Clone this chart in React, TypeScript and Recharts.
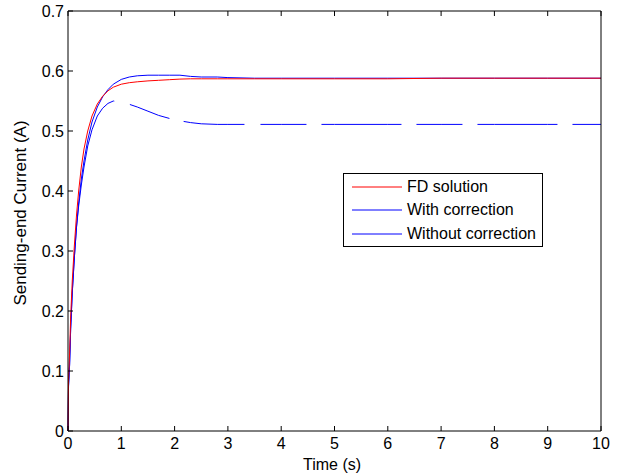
import React from "react";
import { LineChart, Line, XAxis, YAxis } from "recharts";

const time = [0, 0.01, 0.03, 0.05, 0.08, 0.12, 0.16, 0.2, 0.25, 0.3, 0.37, 0.45, 0.55, 0.65, 0.75, 0.85, 1.0, 1.15, 1.3, 1.5, 1.7, 1.9, 2.1, 2.3, 2.5, 2.8, 3.0, 3.5, 4, 5, 6, 7, 8, 9, 10];
const fdSolution = [0, 0.085, 0.13, 0.19, 0.25, 0.31, 0.36, 0.40, 0.44, 0.47, 0.50, 0.525, 0.545, 0.558, 0.567, 0.573, 0.578, 0.5805, 0.582, 0.5835, 0.5845, 0.5855, 0.5865, 0.587, 0.587, 0.587, 0.587, 0.587, 0.587, 0.587, 0.587, 0.588, 0.588, 0.588, 0.588];
const withCorrection = [0, 0.075, 0.11, 0.17, 0.23, 0.29, 0.34, 0.38, 0.42, 0.45, 0.485, 0.515, 0.54, 0.557, 0.569, 0.578, 0.586, 0.590, 0.592, 0.593, 0.593, 0.593, 0.593, 0.591, 0.590, 0.590, 0.589, 0.588, 0.588, 0.588, 0.588, 0.588, 0.588, 0.588, 0.588];
const withoutCorrection = [0, 0.075, 0.11, 0.17, 0.23, 0.29, 0.34, 0.375, 0.41, 0.44, 0.475, 0.502, 0.525, 0.538, 0.546, 0.55, 0.548, 0.5445, 0.54, 0.533, 0.526, 0.521, 0.517, 0.514, 0.512, 0.511, 0.511, 0.511, 0.511, 0.511, 0.511, 0.511, 0.511, 0.511, 0.511];

const xTicks = [0, 1, 2, 3, 4, 5, 6, 7, 8, 9, 10];
const yTicks = [0, 0.1, 0.2, 0.3, 0.4, 0.5, 0.6, 0.7];
const seriesNames = ["FD solution", "With correction", "Without correction"];
const seriesColors = ["#ff0000", "#0000ff", "#0000ff"];

const data = time.map((t, i) => ({
  t,
  fd: fdSolution[i],
  wc: withCorrection[i],
  woc: withoutCorrection[i],
}));

const FONT = '"Liberation Sans", Arial, sans-serif';
const TL = 5;

const BottomTick = (props: any) => {
  const { x, y, payload } = props;
  return (
    <g>
      <line x1={x} y1={y} x2={x} y2={y - TL} stroke="#000" />
      <text x={x} y={y + 18} textAnchor="middle" fontSize={16} fontFamily={FONT} fill="#000">
        {String(payload.value)}
      </text>
    </g>
  );
};
const TopTick = (props: any) => {
  const { x, y } = props;
  return <line x1={x} y1={y} x2={x} y2={y + TL} stroke="#000" />;
};
const LeftTick = (props: any) => {
  const { x, y, payload } = props;
  return (
    <g>
      <line x1={x} y1={y} x2={x + TL} y2={y} stroke="#000" />
      <text x={x - 4} y={y + 6} textAnchor="end" fontSize={16} fontFamily={FONT} fill="#000">
        {String(payload.value)}
      </text>
    </g>
  );
};
const RightTick = (props: any) => {
  const { x, y } = props;
  return <line x1={x} y1={y} x2={x - TL} y2={y} stroke="#000" />;
};

const LegendBox = () => (
  <div
    style={{
      position: "absolute",
      left: 343,
      top: 173,
      width: 200,
      height: 74,
      border: "1px solid #000",
      background: "#fff",
      boxSizing: "border-box",
      fontFamily: FONT,
      fontSize: 16,
      paddingTop: 1,
    }}
  >
    {seriesNames.map((n, i) => (
      <div key={n} style={{ display: "flex", alignItems: "center", height: 23.5, whiteSpace: "nowrap" }}>
        <svg width={63} height={10} style={{ flex: "none" }}>
          <line x1={8} y1={5} x2={58} y2={5} stroke={seriesColors[i]} strokeWidth={1} />
        </svg>
        <span>{n}</span>
      </div>
    ))}
  </div>
);

export default function App() {
  return (
    <div style={{ position: "absolute", left: 0, top: 0, width: 625, height: 475, background: "#fff" }}>
      <LineChart
        width={625}
        height={475}
        data={data}
        margin={{ top: 10, right: 23, bottom: 43, left: 67 }}
      >
        <XAxis
          dataKey="t"
          type="number"
          domain={[0, 10]}
          ticks={xTicks}
          height={1}
          tickSize={0}
          tickMargin={0}
          tickLine={false}
          tick={<BottomTick />}
          axisLine={{ stroke: "#000" }}
          interval={0}
        />
        <XAxis
          xAxisId="top"
          orientation="top"
          dataKey="t"
          type="number"
          domain={[0, 10]}
          ticks={xTicks}
          height={1}
          tickSize={0}
          tickMargin={0}
          tickLine={false}
          tick={<TopTick />}
          axisLine={{ stroke: "#000" }}
          interval={0}
        />
        <YAxis
          type="number"
          domain={[0, 0.7]}
          ticks={yTicks}
          width={1}
          tickSize={0}
          tickMargin={0}
          tickLine={false}
          tick={<LeftTick />}
          axisLine={{ stroke: "#000" }}
          interval={0}
        />
        <YAxis
          yAxisId="right"
          orientation="right"
          type="number"
          domain={[0, 0.7]}
          ticks={yTicks}
          width={1}
          tickSize={0}
          tickMargin={0}
          tickLine={false}
          tick={<RightTick />}
          axisLine={{ stroke: "#000" }}
          interval={0}
        />
        <Line
          type="linear"
          dataKey="woc"
          name={seriesNames[2]}
          stroke={seriesColors[2]}
          strokeWidth={1}
          dot={false}
          isAnimationActive={false}
          strokeDasharray="341 16 42 14.5 61 16 46 15 80 15 46 15 80 15 60"
        />
        <Line
          type="linear"
          dataKey="wc"
          name={seriesNames[1]}
          stroke={seriesColors[1]}
          strokeWidth={1}
          dot={false}
          isAnimationActive={false}
        />
        <Line
          type="linear"
          dataKey="fd"
          name={seriesNames[0]}
          stroke={seriesColors[0]}
          strokeWidth={1}
          dot={false}
          isAnimationActive={false}
        />
        <text x={332} y={470} textAnchor="middle" fontSize={16} fontFamily={FONT} fill="#000">
          Time (s)
        </text>
        <text
          x={26}
          y={213}
          textAnchor="middle"
          fontSize={17}
          fontFamily={FONT}
          fill="#000"
          transform="rotate(-90 26 213)"
        >
          Sending-end Current (A)
        </text>
      </LineChart>
      <LegendBox />
    </div>
  );
}
